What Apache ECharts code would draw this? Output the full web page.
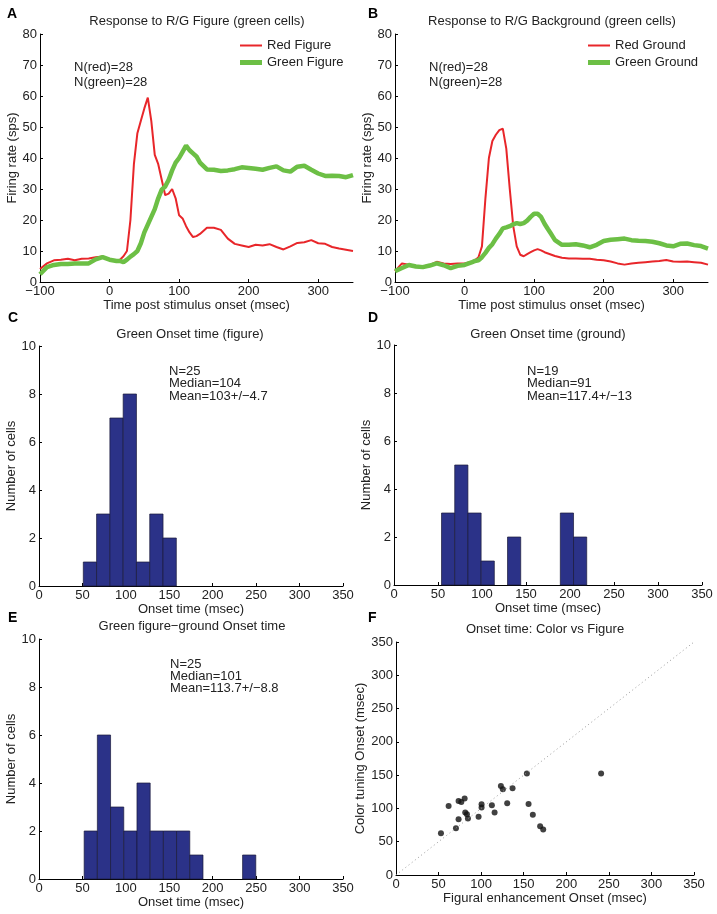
<!DOCTYPE html>
<html><head><meta charset="utf-8">
<script src="https://cdn.jsdelivr.net/npm/echarts@6/dist/echarts.min.js"></script>
<style>html,body{margin:0;padding:0;background:#fff}#c{width:717px;height:914px}</style>
</head><body><div id="c"></div>
<script>
// ---------- DATA ----------
const times = [-100,-90,-80,-70,-60,-50,-40,-30,-20,-10,0,10,
  15,20,25,30,35,40,45,50,55,60,65,70,75,80,85,90,95,100,105,110,115,120,125,130,
  140,150,160,170,180,190,200,210,220,230,240,250,260,270,280,290,300,310,320,330,340,350];
const redFigure = [4.2,6,7,7.2,7.5,7,7.5,7.6,8,8.2,7.3,7,
  7.2,8.3,10,20,38,48,52,56,59.5,52,41,38,33,28,28.5,30,27,21.5,20.5,18,16,14.5,14.8,15.5,
  17.5,17.5,16.8,14,12.3,11.8,11.3,12,11.8,12.2,11.3,10.5,11.5,12.6,12.8,13.5,12.5,12.3,11.3,10.8,10.4,10];
const greenFigure = [2.5,4.8,5.5,5.8,5.8,6,6,6,7.3,8,7.2,6.8,
  6.8,6.4,7.2,8.2,9,10,12.5,16,18.5,21,23.5,27,29.8,30.8,33,36,38.5,40,42,44,42.5,41.5,40.5,38.5,
  36.3,36.2,35.8,36,36.4,37,36.8,36.5,36.2,36.8,37.3,36,35.6,37.2,37.5,36.2,35,34.2,34.3,34.2,33.8,34.5];
const redGround = [3.5,6,5.6,5,5,5.5,6.5,6,5.8,6,6,6.5,
  7,8,11.5,27,40,45.5,47.5,49,49.5,43,30,18,11.5,8.8,8.3,9,9.6,10.2,10.6,10.2,9.6,9.2,8.8,8.4,
  7.8,7.6,7.6,7.5,7.5,7.2,7,6.6,6,5.6,6,6.2,6.4,6.6,6.8,7.1,6.6,6.5,6.6,6.4,6.2,5.6];
const greenGround = [3.5,4.5,5.5,5,4.8,5.3,6,5.4,4.5,5.2,5.5,6.3,
  6.8,7,8,9.4,11,12.2,14,15.5,17.3,17.6,18,18.6,19,18.7,19,19.8,21,22,22,21,18.8,17,15.3,13.5,
  12,12,12.2,11.8,11.2,12,13.2,13.6,13.8,14,13.5,13.3,13.2,13,12.5,11.8,11.5,12.3,12.4,11.9,11.6,10.8];

// histograms: first bin edge, bin width, counts
const histC = {start: 51, width: 15.3, counts: [1,3,7,8,1,3,2]};
const histD = {start: 54, width: 15, counts: [3,5,3,1,0,2,0,0,0,3,2]};
const histE = {start: 52, width: 15.2, counts: [2,6,3,2,4,2,2,2,1,0,0,0,1]};

// scatter F: figural enhancement onset (x), color tuning onset (y)
const figOnset = [52.8,61.8,70.4,73.5,73.5,76.7,80.6,81.3,83.3,84.5,97,100.5,100.5,112.6,115.8,123.2,125.5,130.6,136.9,153.7,155.7,160.7,169.3,172.9,240.9];
const colOnset = [62.9,103.8,70.4,111.3,83.9,109.8,114.8,93.9,91.4,84.9,87.4,106.3,101.3,104.8,93.9,133.8,128.8,107.8,130.3,152.3,106.8,90.4,73.4,68.4,152.3];
const diagonal = [0, 350];

const timeTicks = [-100, 0, 100, 200, 300];

// ---------- BUILD ----------
const FONT = 'Liberation Sans, Arial, Helvetica, sans-serif';
const TXT = '#222';
const FS = 13;
const pairs = (xs, ys) => xs.map((x, i) => [x, ys[i]]);
const histData = h => h.counts.map((c, i) => [h.start + i*h.width, h.start + (i+1)*h.width, c]).filter(d => d[2] > 0);
const minus = v => String(v).replace('-', '\u2212');

function xAxisDef(gi, min, max, interval, name, gap, custom) {
  const a = {
    type: 'value', gridIndex: gi, min, max, interval,
    name, nameLocation: 'middle', nameGap: gap,
    nameTextStyle: {fontFamily: FONT, fontSize: FS, color: TXT},
    axisLine: {onZero: false, lineStyle: {color: '#000', width: 1}},
    axisTick: {inside: true, length: 3, lineStyle: {color: '#000'}},
    axisLabel: {fontFamily: FONT, fontSize: FS, color: TXT, margin: 3, formatter: minus},
    splitLine: {show: false}
  };
  if (custom) { a.axisTick.customValues = custom; a.axisLabel.customValues = custom; }
  return a;
}
function yAxisDef(gi, min, max, interval, name, gap) {
  return {
    type: 'value', gridIndex: gi, min, max, interval,
    name, nameLocation: 'middle', nameGap: gap,
    nameTextStyle: {fontFamily: FONT, fontSize: FS, color: TXT},
    axisLine: {show: true, onZero: false, lineStyle: {color: '#000', width: 1}},
    axisTick: {show: true, inside: true, length: 3, lineStyle: {color: '#000'}},
    axisLabel: {fontFamily: FONT, fontSize: FS, color: TXT, margin: 3},
    splitLine: {show: false}
  };
}
function histItem(params, api) {
  const x0 = api.value(0), x1 = api.value(1), c = api.value(2);
  const p0 = api.coord([x0, c]), p1 = api.coord([x1, 0]);
  return {type: 'rect', shape: {x: p0[0], y: p0[1], width: p1[0]-p0[0], height: p1[1]-p0[1]},
    style: {fill: '#2b3288', stroke: '#1a1a3a', lineWidth: 0.7}};
}
function histSeries(gi, h) {
  return {type: 'custom', xAxisIndex: gi, yAxisIndex: gi, renderItem: histItem,
    encode: {x: [0, 1], y: 2}, data: histData(h), silent: true};
}
function txt(text, left, top, opts) {
  return {text, left, top, padding: 0,
    textStyle: Object.assign({fontFamily: FONT, fontSize: FS, fontWeight: 'normal', color: TXT}, opts || {})};
}
function letter(text, left, top) {
  return txt(text, left, top, {fontWeight: 'bold', fontSize: 14, color: '#000'});
}
function center(text, cx, top) {
  return {text, left: cx, top, padding: 0, textAlign: 'center',
    textStyle: {fontFamily: FONT, fontSize: FS, fontWeight: 'normal', color: TXT}};
}
function legendItem(name, left, top, h) {
  return {data: [name], left, top, padding: 0, itemWidth: 22, itemHeight: h, icon: 'rect',
    textStyle: {fontFamily: FONT, fontSize: FS, color: TXT}};
}

const RED = '#e8262a', GREEN = '#6cbf45';

const option = {
  animation: false,
  backgroundColor: '#fff',
  title: [
    letter('A', 7, 7), letter('B', 368, 7),
    letter('C', 8, 311), letter('D', 368, 311),
    letter('E', 8, 611), letter('F', 368, 611),
    center('Response to R/G Figure (green cells)', 197, 15),
    center('Response to R/G Background (green cells)', 552, 15),
    center('Green Onset time (figure)', 190, 328),
    center('Green Onset time (ground)', 548, 328),
    center('Green figure\u2212ground Onset time', 192, 620),
    center('Onset time: Color vs Figure', 545, 623),
    txt('N(red)=28\nN(green)=28', 74, 60, {lineHeight: 15}),
    txt('N(red)=28\nN(green)=28', 429, 60, {lineHeight: 15}),
    txt('N=25\nMedian=104\nMean=103+/\u22124.7', 169, 365, {lineHeight: 12.5}),
    txt('N=19\nMedian=91\nMean=117.4+/\u221213', 527, 365, {lineHeight: 12.5}),
    txt('N=25\nMedian=101\nMean=113.7+/\u22128.8', 170, 658, {lineHeight: 12})
  ],
  legend: [
    legendItem('Red Figure', 240, 39, 2),
    legendItem('Green Figure', 240, 56, 5),
    legendItem('Red Ground', 588, 39, 2),
    legendItem('Green Ground', 588, 56, 5)
  ],
  grid: [
    {left: 40, top: 34, width: 313, height: 248},
    {left: 395, top: 34, width: 313, height: 248},
    {left: 39, top: 346, width: 304, height: 240},
    {left: 394, top: 345, width: 308, height: 240},
    {left: 39, top: 639, width: 304, height: 240},
    {left: 396, top: 642, width: 298, height: 233}
  ],
  xAxis: [
    xAxisDef(0, -100, 350, 100, 'Time post stimulus onset (msec)', 11, timeTicks),
    xAxisDef(1, -100, 350, 100, 'Time post stimulus onset (msec)', 11, timeTicks),
    xAxisDef(2, 0, 350, 50, 'Onset time (msec)', 13),
    xAxisDef(3, 0, 350, 50, 'Onset time (msec)', 13),
    xAxisDef(4, 0, 350, 50, 'Onset time (msec)', 16),
    xAxisDef(5, 0, 350, 50, 'Figural enhancement Onset (msec)', 15.5)
  ],
  yAxis: [
    yAxisDef(0, 0, 80, 10, 'Firing rate (sps)', 17.5),
    yAxisDef(1, 0, 80, 10, 'Firing rate (sps)', 17.5),
    yAxisDef(2, 0, 10, 2, 'Number of cells', 19.5),
    yAxisDef(3, 0, 10, 2, 'Number of cells', 19.5),
    yAxisDef(4, 0, 10, 2, 'Number of cells', 19.5),
    yAxisDef(5, 0, 350, 50, 'Color tuning Onset (msec)', 24.5)
  ],
  series: [
    {name: 'Red Figure', type: 'line', xAxisIndex: 0, yAxisIndex: 0, data: pairs(times, redFigure), showSymbol: false, color: RED, lineStyle: {width: 2, color: RED}, z: 2},
    {name: 'Green Figure', type: 'line', xAxisIndex: 0, yAxisIndex: 0, data: pairs(times, greenFigure), showSymbol: false, color: GREEN, lineStyle: {width: 4.5, color: GREEN}, z: 3},
    {name: 'Red Ground', type: 'line', xAxisIndex: 1, yAxisIndex: 1, data: pairs(times, redGround), showSymbol: false, color: RED, lineStyle: {width: 2, color: RED}, z: 2},
    {name: 'Green Ground', type: 'line', xAxisIndex: 1, yAxisIndex: 1, data: pairs(times, greenGround), showSymbol: false, color: GREEN, lineStyle: {width: 4.5, color: GREEN}, z: 3},
    histSeries(2, histC),
    histSeries(3, histD),
    histSeries(4, histE),
    {type: 'line', xAxisIndex: 5, yAxisIndex: 5, data: diagonal.map(d => [d, d]), showSymbol: false, silent: true,
      lineStyle: {width: 1, type: [1, 3], color: '#999'}},
    {type: 'scatter', xAxisIndex: 5, yAxisIndex: 5, data: pairs(figOnset, colOnset), symbolSize: 6,
      itemStyle: {color: '#111'}}
  ]
};
const chart = echarts.init(document.getElementById('c'), null, {renderer: 'canvas'});
chart.setOption(option);
</script></body></html>
